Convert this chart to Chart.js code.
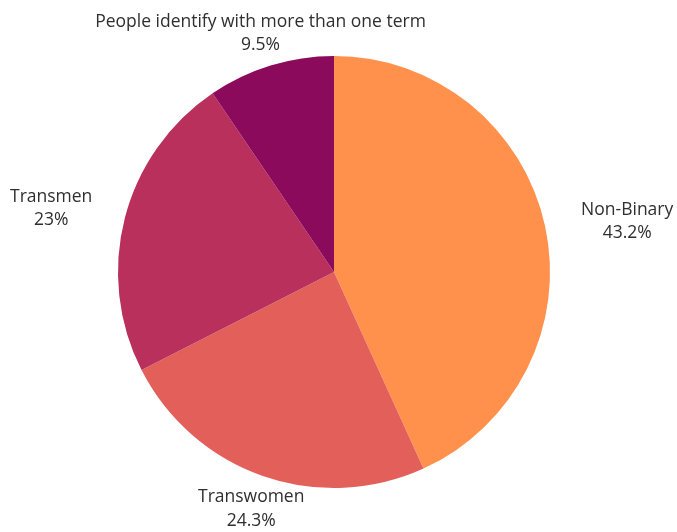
<!DOCTYPE html>
<html>
<head>
<meta charset="utf-8">
<script src="https://cdn.jsdelivr.net/npm/chart.js@4"></script>
<style>
  html, body { margin: 0; padding: 0; background: #fff; }
  #wrap { width: 677px; height: 532px; }
</style>
</head>
<body>
<div id="wrap"><canvas id="pie" width="677" height="532"></canvas></div>
<script>
// data
const categories = ['Non-Binary', 'Transwomen', 'Transmen', 'People identify with more than one term']
const shares = [43.2, 24.3, 23, 9.5]
const shareLabels = ['43.2%', '24.3%', '23%', '9.5%']
const colors = ['#FF914D', '#E35F5A', '#B8305B', '#8B0A5C']

// how far past the rim each label block sits (px), plus a small vertical nudge
const labelGap = [84, 35, 76, 34]
const labelNudge = [13, 0, 9, 0]

const outsideLabels = {
  id: 'outsideLabels',
  afterDraw(chart) {
    const ctx = chart.ctx
    const meta = chart.getDatasetMeta(0)
    ctx.save()
    ctx.font = '17.5px "Open Sans", sans-serif'
    ctx.fillStyle = '#2f2f2f'
    ctx.textAlign = 'center'
    ctx.textBaseline = 'middle'
    meta.data.forEach((arc, i) => {
      const mid = (arc.startAngle + arc.endAngle) / 2
      const dist = arc.outerRadius + labelGap[i]
      const x = arc.x + Math.cos(mid) * dist
      const y = arc.y + Math.sin(mid) * dist + labelNudge[i]
      ctx.fillText(categories[i], x, y - 11.5)
      ctx.fillText(shareLabels[i], x, y + 12)
    })
    ctx.restore()
  }
}

new Chart(document.getElementById('pie').getContext('2d'), {
  type: 'pie',
  data: {
    labels: categories,
    datasets: [{
      data: shares,
      backgroundColor: colors,
      borderWidth: 0
    }]
  },
  options: {
    responsive: false,
    animation: false,
    layout: { padding: { top: 56, bottom: 44, left: 118, right: 127 } },
    plugins: {
      legend: { display: false },
      tooltip: { enabled: false }
    }
  },
  plugins: [outsideLabels]
})
</script>
</body>
</html>
